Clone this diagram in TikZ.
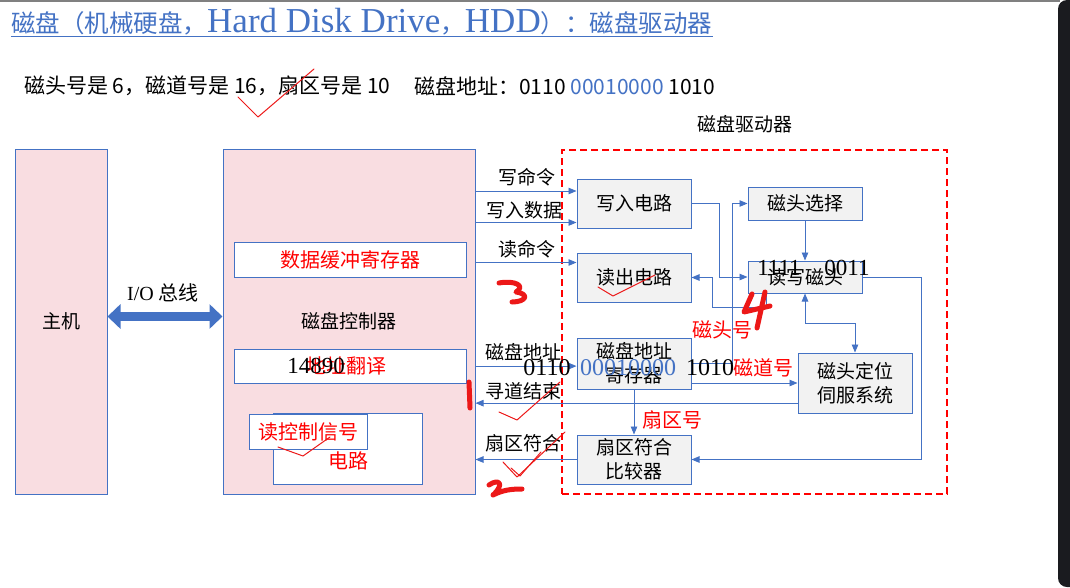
\documentclass[tikz,border=0pt]{standalone}
\usepackage{fontspec}
\setmainfont{Liberation Serif}
\newfontfamily\zhfont{Noto Sans CJK SC}
\usetikzlibrary{calc, arrows.meta}
\definecolor{lineblue}{RGB}{68, 114, 196}
\definecolor{hostpink}{RGB}{249, 221, 225}
\definecolor{boxgray}{RGB}{242, 242, 242}
\definecolor{penred}{RGB}{236, 24, 24}
\definecolor{frame}{RGB}{26, 27, 31}
\newcommand{\zhtxt}{\zhfont\fontsize{19}{24}\selectfont}
\newcommand{\numtxt}{\fontsize{23}{24}\selectfont}
\newcommand{\titlezh}{\zhfont\fontsize{24.5}{26}\selectfont}

\begin{document}
\begin{tikzpicture}[x=1pt, y=-1pt,
  outerbox/.style={draw=lineblue, fill=hostpink, line width=1pt, inner sep=0pt, font=\zhtxt},
  whitebox/.style={draw=lineblue, fill=white, line width=1pt, inner sep=0pt},
  drvbox/.style={draw=lineblue, fill=boxgray, line width=1pt, inner sep=0pt,
                 minimum width=114pt, align=center, font=\zhtxt},
  sig/.style={lineblue, line width=0.9pt, -{Triangle[length=8pt, width=6.5pt]}},
  lbl/.style={font=\zhtxt, inner sep=0pt},
  redlbl/.style={font=\zhfont\fontsize{20}{24}\selectfont, text=red, inner sep=0pt},
  pen/.style={penred, line width=1pt, line cap=round, line join=round},
  thickpen/.style={penred, line width=5pt, line cap=round, line join=round}]
  \useasboundingbox (0,0) rectangle (1070,587);

  % --- screen frame ---
  \fill[gray] (0,0) rectangle (1060,1.5);
  \begin{scope}
    \clip (0,0) rectangle (1070,587);
    \fill[frame, rounded corners=9pt] (1058,0) rectangle (1090,587);
  \end{scope}

  % --- title and given data ---
  \node[anchor=west, inner sep=0pt, text=lineblue, font=\fontsize{35}{36}\selectfont] (title) at (11,22)
    {{\titlezh 磁盘（机械硬盘，}Hard Disk Drive{\titlezh ，}HDD{\titlezh ）：磁盘驱动器}};
  \draw[lineblue, line width=1.2pt] ([yshift=-4pt]title.base west) -- ([yshift=-4pt]title.base east);
  \node[anchor=west, inner sep=0pt, font=\zhfont\fontsize{21}{24}\selectfont] (given) at (24,86)
    {磁头号是 6，磁道号是 16，扇区号是 10};
  \node[anchor=west, inner sep=0pt, font=\zhfont\fontsize{21}{24}\selectfont] (addr) at (414,86)
    {磁盘地址：0110 \textcolor{lineblue}{00010000} 1010};

  % --- host and controller ---
  \node[outerbox, minimum width=92pt, minimum height=345pt] (host) at (61,321.5) {主机};
  \node[outerbox, minimum width=252pt, minimum height=345pt] (ctrl) at (349,321.5) {磁盘控制器};
  \node[whitebox, minimum width=232pt, minimum height=35pt, font=\zhfont\fontsize{20}{24}\selectfont, text=red]
    (buf) at (350,259.5) {数据缓冲寄存器};
  \node[whitebox, minimum width=232pt, minimum height=34pt] (trans) at (350,366) {};
  \node[redlbl] (transtxt) at (346,366) {地址翻译};
  \node[font=\numtxt, inner sep=0pt] (transnum) at (316,366) {14890};
  \node[whitebox, minimum width=149pt, minimum height=71pt] (rdcirc) at (347.5,448.5) {};
  \node[redlbl] (rdcirctxt) at (348,461) {电路};
  \node[whitebox, minimum width=118pt, minimum height=35pt, font=\zhfont\fontsize{20}{24}\selectfont, text=red]
    (rdctl) at (308,431.5) {读控制信号};

  % --- I/O bus ---
  \draw[lineblue, line width=9pt, {Triangle[length=13pt, width=24pt]}-{Triangle[length=13pt, width=24pt]}]
    ([yshift=5pt]host.east) -- ([yshift=5pt]ctrl.west);
  \node[inner sep=0pt, font=\fontsize{20}{20}\selectfont] (buslbl) at (163,293) {I/O {\zhfont 总线}};

  % --- disk drive ---
  \node[draw=red, line width=1.3pt, dash pattern=on 7pt off 4pt, minimum width=385pt, minimum height=344pt,
        inner sep=0pt] (drive) at (754.5,322) {};
  \node[lbl] (drivelbl) at (745,124) {磁盘驱动器};
  \node[drvbox, minimum height=49pt] (wcirc) at (634,203.5) {写入电路};
  \node[drvbox, minimum height=49pt] (rcirc) at (634,277.5) {读出电路};
  \node[drvbox, minimum height=51pt] (areg) at (634,363.5) {磁盘地址\\寄存器};
  \node[drvbox, minimum height=49pt] (scmp) at (634,459.5) {扇区符合\\比较器};
  \node[drvbox, minimum height=33pt] (hsel) at (805,203.5) {磁头选择};
  \node[drvbox, minimum height=32pt] (head) at (805,277) {读写磁头};
  \node[drvbox, minimum height=60pt] (servo) at (855,383) {磁头定位\\伺服系统};

  % --- controller <-> drive signals ---
  \coordinate (wcmd) at ($(wcirc.north west)!0.25!(wcirc.south west)$);
  \coordinate (wdat) at ($(wcirc.north west)!0.88!(wcirc.south west)$);
  \coordinate (rcmd) at ($(rcirc.north west)!0.2!(rcirc.south west)$);
  \coordinate (dadr) at ($(areg.north west)!0.55!(areg.south west)$);
  \coordinate (seek) at ($(servo.north west)!0.83!(servo.south west)$);
  \draw[sig] (ctrl.east |- wcmd) -- (wcmd);
  \draw[sig] (ctrl.east |- wdat) -- (wdat);
  \draw[sig] (ctrl.east |- rcmd) -- (rcmd);
  \draw[sig] (ctrl.east |- dadr) -- (dadr);
  \draw[sig] (seek) -- (ctrl.east |- seek);
  \draw[sig] (scmp.west) -- (ctrl.east |- scmp.west);
  \node[lbl] (lwcmd) at (527,177) {写命令};
  \node[lbl] (lwdat) at (524,210) {写入数据};
  \node[lbl] (lrcmd) at (527,249) {读命令};
  \node[lbl] (ldadr) at (523,352) {磁盘地址};
  \node[lbl] (lseek) at (523,391) {寻道结束};
  \node[lbl] (lsect) at (523,443) {扇区符合};

  % --- inside the drive ---
  \draw[sig] (wcirc.east) -- ++(28,0) |- (head.west);
  \draw[sig] (areg.east) -- ++(41,0) |- (hsel.west);
  \draw[sig] (hsel.south) -- (head.north);
  \draw[sig] ($(head.south west)+(19,0)$) -- ++(0,14) -| ($(rcirc.east)+(21,0)$) -- (rcirc.east);
  \draw[sig, {Triangle[length=8pt, width=6.5pt]}-{Triangle[length=8pt, width=6.5pt]}]
    (head.south) -- ++(0,30) -| (servo.north);
  \draw[sig] (areg.east |- servo.west) -- (servo.west);
  \draw[sig] (areg.south) -- (scmp.north);
  \draw[sig] (head.east) -- ++(59,0) |- (scmp.east);
  \node[redlbl] (lhnum) at (722,330) {磁头号};
  \node[redlbl] (ltnum) at (763,368) {磁道号};
  \node[redlbl] (lsnum) at (672,420) {扇区号};

  % --- numbers written over the boxes ---
  \node[font=\numtxt, inner sep=0pt] (hd1) at (779,268) {1111};
  \node[font=\numtxt, inner sep=0pt] (hd2) at (847,268) {0011};
  \node[font=\fontsize{24}{24}\selectfont, inner sep=0pt] (ad1) at (547,368) {0110};
  \node[font=\fontsize{24}{24}\selectfont, inner sep=0pt, text=lineblue] (ad2) at (628,368) {00010000};
  \node[font=\fontsize{24}{24}\selectfont, inner sep=0pt] (ad3) at (710,368) {1010};

  % --- pen marks ---
  \draw[pen] (238,97) -- (258,117) -- (314,69);
  \draw[pen] (499,412) -- (517,420) -- (560,382);
  \draw[pen] (503,462) -- (517,477) -- (565,432);
  \draw[pen] (511,468) -- (520,476) -- (541,452);
  \draw[pen] (598,287) -- (613,296) -- (655,275);
  \draw[pen] (278,447) -- (303,456) -- (330,437);
  \draw[thickpen] (499,283) .. controls (515,280) and (526,286) .. (516,292)
                  .. controls (530,294) and (526,302) .. (512,302);
  \draw[thickpen] (752,294) -- (744,312) -- (770,306);
  \draw[thickpen] (765,292) -- (757,328);
  \draw[thickpen] (469,382) -- (470,408);
  \draw[thickpen] (489,485) .. controls (499,478) and (505,484) .. (493,495)
                  .. controls (503,490) and (511,489) .. (522,489);
\end{tikzpicture}
\end{document}
